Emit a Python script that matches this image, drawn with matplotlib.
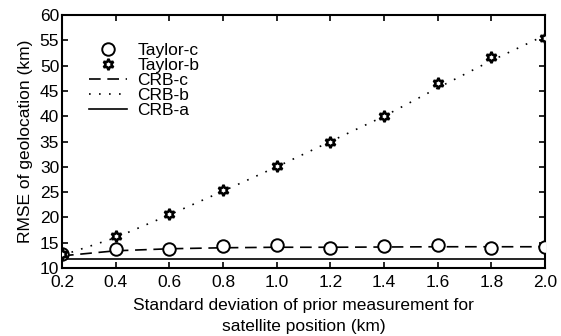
import numpy as np
import matplotlib
matplotlib.use('Agg')
import matplotlib.pyplot as plt

# values
sigma = [0.2, 0.4, 0.6, 0.8, 1.0, 1.2, 1.4, 1.6, 1.8, 2.0]
taylor_c = [12.7, 13.8, 13.8, 14.3, 14.5, 13.9, 14.4, 14.5, 14.0, 14.1]
taylor_b = [12.8, 16.4, 20.7, 25.4, 30.1, 35.0, 40.0, 46.6, 51.7, 55.5]
crb_c = [12.4, 13.4, 13.8, 14.0, 14.1, 14.1, 14.15, 14.2, 14.2, 14.2]
crb_b = [12.5, 16.0, 20.5, 25.2, 30.0, 35.0, 40.0, 45.6, 51.0, 56.0]
crb_a = [11.7] * len(sigma)

plt.rcParams['font.family'] = ['Liberation Sans', 'DejaVu Sans']
plt.rcParams['font.size'] = 12.5

fig = plt.figure(figsize=(5.61, 3.36), dpi=100)
ax = fig.add_axes([0.1105, 0.2024, 0.861, 0.7526])

ax.plot(sigma, taylor_c, ls='none', marker='o', ms=9, mfc='white', mec='black',
        mew=1.4, label='Taylor-c', zorder=4)
ax.plot(sigma, taylor_b, ls='none', marker=(6, 1, 0), ms=8, mfc='white', mec='black',
        mew=1.8, label='Taylor-b', zorder=4)
ax.plot(sigma, crb_c, ls=(0, (7, 4)), c='black', lw=1.2, label='CRB-c')
ax.plot(sigma, crb_b, ls=(0, (1, 5)), c='black', lw=1.2, label='CRB-b')
ax.plot(sigma, crb_a, ls='-', c='black', lw=1.2, label='CRB-a')

ax.set_xlim(0.2, 2.0)
ax.set_ylim(10, 60)
ax.set_xticks(np.arange(0.2, 2.01, 0.2))
ax.set_xticklabels(['%.1f' % v for v in np.arange(0.2, 2.01, 0.2)])
ax.set_yticks(range(10, 61, 5))
ax.tick_params(direction='in', top=True, right=True, length=4, width=1.2)
ax.tick_params(axis='x', pad=5)
ax.tick_params(axis='y', pad=2)
for s in ax.spines.values():
    s.set_linewidth(1.5)

ax.set_xlabel('Standard deviation of prior measurement for\nsatellite position (km)',
              labelpad=6, linespacing=1.45)
ax.set_ylabel('RMSE of geolocation (km)', labelpad=5)

ax.legend(loc='upper left', frameon=False, bbox_to_anchor=(0.03, 0.94),
          handlelength=2.2, labelspacing=0.0, handletextpad=0.6, borderpad=0.2)

fig.savefig('out.png', dpi=100)
